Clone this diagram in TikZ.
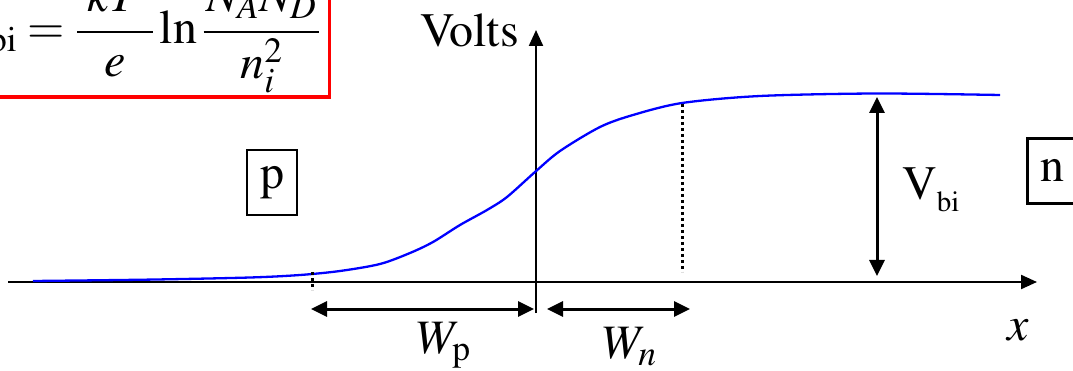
\documentclass[tikz,border=0pt]{standalone}
\usepackage[T1]{fontenc}
\usepackage{mathptmx}
\usetikzlibrary{arrows.meta}
\tikzset{
  big/.style={font=\fontsize{48}{56}\selectfont, inner sep=0pt},
  axis/.style={line width=2.2pt, -{Triangle[length=16pt,width=14pt]}},
  dimarrow/.style={line width=3pt, {Triangle[length=16pt,width=15pt]}-{Triangle[length=16pt,width=15pt]}},
  dotline/.style={line width=3pt, dash pattern=on 3pt off 3pt},
  curve/.style={blue, line width=2.3pt},
  regionbox/.style={draw, line width=2.8pt, font=\fontsize{48}{56}\selectfont, minimum width=50pt, minimum height=65pt, inner sep=0pt}
}
\begin{document}
\begin{tikzpicture}[x=1pt,y=-1pt]
\useasboundingbox (0,0) rectangle (1073,371);
\clip (0,0) rectangle (1073,371);
% axes
\coordinate (xs) at (8,282);
\coordinate (xe) at (1037,282);
\coordinate (ys) at (536,313);
\coordinate (ye) at (536,30);
\draw[axis] (xs) -- (xe);
\draw[axis] (ys) -- (ye);
% curve
\draw[curve] plot[smooth, tension=0.5] coordinates {(33,281) (150,279.6) (250,277.5) (300,275) (340,271) (380,264) (410,253) (433,242) (460,225) (487,210) (507,197) (535,172) (560,151) (600,127) (633,115) (682,103) (760,96) (876,93.5) (1000,95)};
% dotted lines
\coordinate (dn1) at (682,104);
\coordinate (dn2) at (682,272);
\draw[dotline] (dn1) -- (dn2);
\coordinate (dp1) at (312,272);
\coordinate (dp2) at (312,290);
\draw[dotline] (dp1) -- (dp2);
% depletion widths
\coordinate (wp1) at (311,309);
\coordinate (wp2) at (534,309);
\draw[dimarrow] (wp1) -- (wp2);
\coordinate (wn1) at (547,309);
\coordinate (wn2) at (690,309);
\draw[dimarrow] (wn1) -- (wn2);
% Vbi arrow
\coordinate (v1) at (877,97);
\coordinate (v2) at (877,276);
\draw[dimarrow] (v1) -- (v2);
% labels
\node[big, anchor=base east] (volts) at (519,47) {Volts};
\node[big, anchor=base west] (vbi) at (902,200) {V\raisebox{-12pt}{\fontsize{29}{32}\selectfont bi}};
\node[big, anchor=base west] (wp) at (417,353) {$W_{\mathrm{p}}$};
\node[big, anchor=base west] (wn) at (603,358) {$W_n$};
\node[big, anchor=base west] (xl) at (1007,340) {$x$};
\node[regionbox] (pbox) at (272,182.5) {p};
\node[regionbox, anchor=north west] (nbox) at (1026,137) {n};
% formula
\node[draw=red, line width=3.5pt, anchor=south east, inner xsep=9pt, inner ysep=4pt, font=\fontsize{48}{56}\selectfont] (formula) at (331,99)
  {$\displaystyle \mathrm{V}_{\mathrm{bi}}=\frac{\;kT\;}{e}\ln\frac{\mkern1mu N_AN_D\mkern1mu}{n_i^2}$};
\end{tikzpicture}
\end{document}
